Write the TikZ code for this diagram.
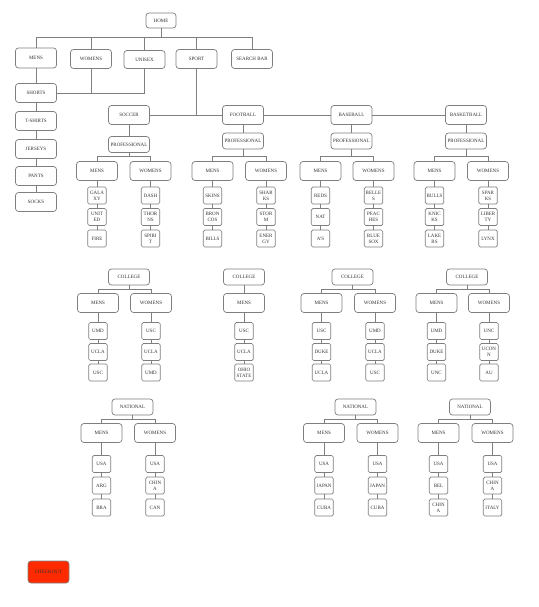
\documentclass[tikz,border=0pt]{standalone}
\usepackage{fontspec}
\setmainfont{Liberation Serif}
\usepackage{tikz}
\usetikzlibrary{calc, positioning}
\definecolor{boxline}{HTML}{7F7F7F}
\definecolor{boxtext}{HTML}{333333}
\definecolor{checkred}{HTML}{FF2A00}

\begin{document}
\begin{tikzpicture}[x=1pt, y=-1pt,
    cat/.style={rectangle, draw=boxline, line width=0.7pt, rounded corners=3pt, minimum width=41pt, minimum height=19pt, inner sep=1pt, align=center, text=boxtext, font=\fontsize{5}{6}\selectfont},
    sub/.style={cat, minimum height=16pt},
    leaf/.style={cat, rounded corners=1.5pt, minimum width=18.5pt, minimum height=17pt},
    link/.style={draw=boxline, line width=0.7pt}]

    \fill[white] (0,0) rectangle (538,607);
    \useasboundingbox (0,0) rectangle (538,607);

    % Top menu
    \node (home) [cat, minimum width=30pt, minimum height=15pt] at (161,20.5) {HOME};
    \node (tmens) [cat, minimum height=20pt] at (36,58) {MENS};
    \node (twomens) [cat] at (91,59) {WOMENS};
    \node (unisex) [cat, minimum height=18pt] at (144.5,59.5) {UNISEX};
    \node (sport) [cat] at (196.5,59) {SPORT};
    \node (search) [cat] at (252,59) {SEARCH BAR};

    % Clothes
    \node (shorts) [cat] at (36,93) {SHORTS};
    \node (tshirts) [cat] at (36,121) {T-SHIRTS};
    \node (jerseys) [cat] at (36,149) {JERSEYS};
    \node (pants) [cat] at (36,176) {PANTS};
    \node (socks) [cat] at (36,202) {SOCKS};

    % Sports
    \node (soccer) [cat] at (129,115) {SOCCER};
    \node (football) [cat] at (243,115) {FOOTBALL};
    \node (baseball) [cat] at (351.5,115) {BASEBALL};
    \node (basketball) [cat] at (466,115) {BASKETBALL};

    \node (sp) [sub] at (129,144.5) {PROFESSIONAL};
    \node (fp) [sub] at (243,141) {PROFESSIONAL};
    \node (bp) [sub] at (351.5,141) {PROFESSIONAL};
    \node (kp) [sub] at (466,141) {PROFESSIONAL};

    \node (sc) [sub] at (129,277) {COLLEGE};
    \node (fc) [sub] at (244,277) {COLLEGE};
    \node (bc) [sub] at (352.5,277) {COLLEGE};
    \node (kc) [sub] at (467,277) {COLLEGE};

    \node (sn) [sub] at (132.5,407) {NATIONAL};
    \node (bn) [sub] at (355.5,407) {NATIONAL};
    \node (kn) [sub] at (470,407) {NATIONAL};

    % Mens / womens
    \foreach \n/\x/\t in {spm/97/MENS, spw/150.5/WOMENS, fpm/212.5/MENS, fpw/266/WOMENS,
        bpm/320.5/MENS, bpw/373.5/WOMENS, kpm/434.5/MENS, kpw/488/WOMENS}
        \node (\n) [cat] at (\x,171) {\t};
    \foreach \n/\x/\t in {scm/98/MENS, scw/151/WOMENS, fcm/244/MENS,
        bcm/321.5/MENS, bcw/375/WOMENS, kcm/436.5/MENS, kcw/489/WOMENS}
        \node (\n) [cat] at (\x,303) {\t};
    \foreach \n/\x/\t in {snm/101.5/MENS, snw/155/WOMENS, bnm/324/MENS,
        bnw/377.5/WOMENS, knm/438.5/MENS, knw/492.5/WOMENS}
        \node (\n) [cat] at (\x,433) {\t};

    % Teams
    \foreach \n/\a/\b/\c in {spm/{GALA\\XY}/{UNIT\\ED}/FIRE, spw/DASH/{THOR\\NS}/{SPIRI\\T},
        fpm/SKINS/{BRON\\COS}/BILLS, fpw/{SHAR\\KS}/{STOR\\M}/{ENER\\GY},
        bpm/REDS/NAT/A'S, bpw/{BELLE\\S}/{PEAC\\HES}/{BLUE\\SOX},
        kpm/BULLS/{KNIC\\KS}/{LAKE\\RS}, kpw/{SPAR\\KS}/{LIBER\\TY}/LYNX}
    {
        \node (\n1) [leaf] at (\n |- 0,195.5) {\a};
        \node (\n2) [leaf] at (\n |- 0,217) {\b};
        \node (\n3) [leaf] at (\n |- 0,238.5) {\c};
        \draw[link] (\n) -- (\n1) -- (\n2) -- (\n3);
    }
    \foreach \n/\a/\b/\c in {scm/UMD/UCLA/USC, scw/USC/UCLA/UMD, fcm/USC/UCLA/{OHIO\\STATE},
        bcm/USC/DUKE/UCLA, bcw/UMD/UCLA/USC, kcm/UMD/DUKE/UNC, kcw/UNC/{UCON\\N}/AU}
    {
        \node (\n1) [leaf] at (\n |- 0,331) {\a};
        \node (\n2) [leaf] at (\n |- 0,352) {\b};
        \node (\n3) [leaf] at (\n |- 0,372.5) {\c};
        \draw[link] (\n) -- (\n1) -- (\n2) -- (\n3);
    }
    \foreach \n/\a/\b/\c in {snm/USA/ARG/BRA, snw/USA/{CHIN\\A}/CAN, bnm/USA/JAPAN/CUBA,
        bnw/USA/JAPAN/CUBA, knm/USA/BEL/{CHIN\\A}, knw/USA/{CHIN\\A}/ITALY}
    {
        \node (\n1) [leaf] at (\n |- 0,464) {\a};
        \node (\n2) [leaf] at (\n |- 0,485.5) {\b};
        \node (\n3) [leaf] at (\n |- 0,507.5) {\c};
        \draw[link] (\n) -- (\n1) -- (\n2) -- (\n3);
    }

    \node (checkout) [cat, fill=checkred, minimum height=22pt] at (48.5,572) {CHECKOUT};

    % Lines
    \draw[link] (home) -- (home.south |- 0,37);
    \draw[link] (tmens.north) |- (search.north |- 0,37) -- (search.north);
    \foreach \t in {twomens, unisex, sport}
        \draw[link] (\t.north) -- (\t.north |- 0,37);
    \draw[link] (tmens) -- (shorts) -- (tshirts) -- (jerseys) -- (pants) -- (socks);
    \draw[link] (twomens.south) -- (twomens.south |- shorts);
    \draw[link] (shorts) -- (unisex.south |- shorts) -- (unisex.south);

    \draw[link] (soccer) -- (football) -- (baseball) -- (basketball);
    \draw[link] (sport) -- (sport.south |- soccer);
    \foreach \s/\p in {soccer/sp, football/fp, baseball/bp, basketball/kp}
        \draw[link] (\s) -- (\p);

    \foreach \p/\m/\w/\y in {sp/spm/spw/156, fp/fpm/fpw/156, bp/bpm/bpw/156, kp/kpm/kpw/156,
        sc/scm/scw/289, bc/bcm/bcw/289, kc/kcm/kcw/289, sn/snm/snw/419, bn/bnm/bnw/419, kn/knm/knw/419}
        \draw[link] (\p.south) -- (\p.south |- 0,\y) (\m.north) |- (\w.north |- 0,\y) -- (\w.north);
    \draw[link] (fc) -- (fcm);
\end{tikzpicture}
\end{document}
